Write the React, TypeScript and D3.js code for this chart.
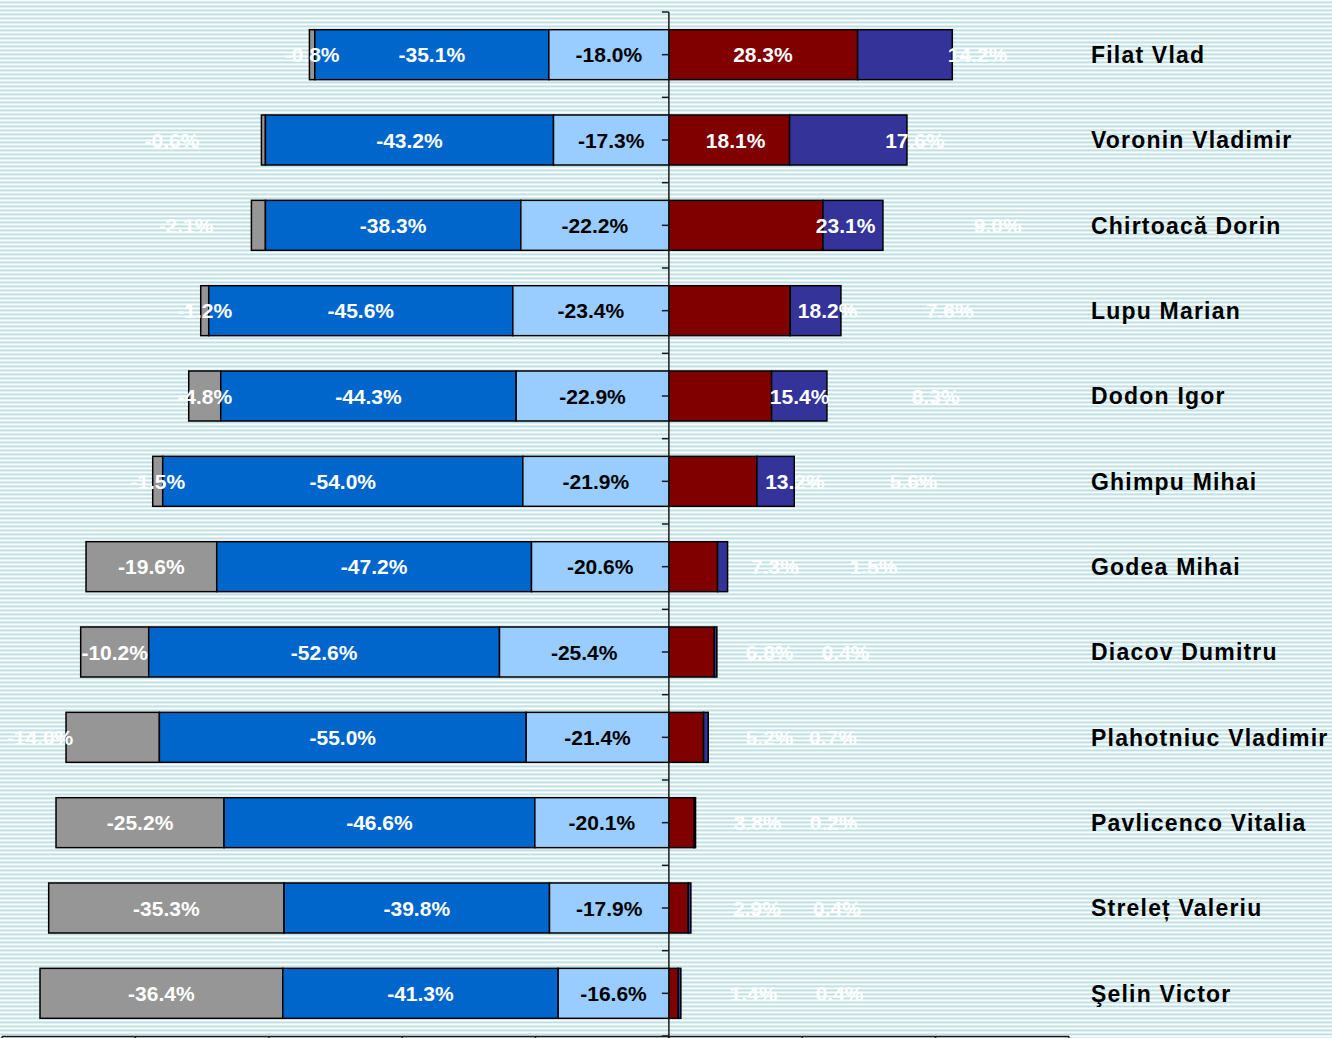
import React from 'react';
import * as d3 from 'd3';

const categories = [
  'Filat Vlad',
  'Voronin Vladimir',
  'Chirtoacă Dorin',
  'Lupu Marian',
  'Dodon Igor',
  'Ghimpu Mihai',
  'Godea Mihai',
  'Diacov Dumitru',
  'Plahotniuc Vladimir',
  'Pavlicenco Vitalia',
  'Streleț Valeriu',
  'Şelin Victor',
];
const grayValues = [-0.8, -0.6, -2.1, -1.2, -4.8, -1.5, -19.6, -10.2, -14.0, -25.2, -35.3, -36.4];
const blueValues = [-35.1, -43.2, -38.3, -45.6, -44.3, -54.0, -47.2, -52.6, -55.0, -46.6, -39.8, -41.3];
const lightBlueValues = [-18.0, -17.3, -22.2, -23.4, -22.9, -21.9, -20.6, -25.4, -21.4, -20.1, -17.9, -16.6];
const redValues = [28.3, 18.1, 23.1, 18.2, 15.4, 13.2, 7.3, 6.8, 5.2, 3.8, 2.9, 1.4];
const indigoValues = [14.2, 17.6, 9.0, 7.6, 8.3, 5.6, 1.5, 0.4, 0.7, 0.2, 0.4, 0.4];
const axisTicks = [-100, -80, -60, -40, -20, 0, 20, 40, 60];

// Label anchors (in value units) where the original labels sit away from their segment centre
const grayLabelAt: (number | null)[] = [null, -74.5, -72.4, null, null, null, null, null, -94.3, null, null, null];
const redLabelAt = [14.1, 10.0, 26.5, 23.8, 19.6, 18.9, 15.9, 15.1, 15.1, 13.3, 13.2, 12.7];
const indigoLabelAt = [46.3, 36.9, 49.3, 42.1, 40.0, 36.7, 30.7, 26.5, 24.6, 24.7, 25.2, 25.6];

const W = 1332;
const H = 1038;

const COLORS = {
  gray: '#969696',
  blue: '#0066CC',
  light: '#99CCFF',
  red: '#800000',
  indigo: '#333399',
};

const fmt = (v: number) => v.toFixed(1) + '%';

export default function App() {
  const x = d3.scaleLinear().domain([-100, 60]).range([2, 1069]);
  const y = d3.scaleBand<string>().domain(categories).range([12, 1036]).padding(0);
  const step = y.step();
  const barH = 50;

  type Seg = { key: string; x0: number; x1: number; color: string; label: string; at: number; textColor: string };
  const rows = categories.map((c, i) => {
    const lb = lightBlueValues[i];
    const b = blueValues[i];
    const g = grayValues[i];
    const r = redValues[i];
    const ind = indigoValues[i];
    const segs: Seg[] = [
      { key: 'gray', x0: lb + b + g, x1: lb + b, color: COLORS.gray, label: fmt(g), at: grayLabelAt[i] ?? (lb + b + g / 2), textColor: '#fff' },
      { key: 'blue', x0: lb + b, x1: lb, color: COLORS.blue, label: fmt(b), at: lb + b / 2, textColor: '#fff' },
      { key: 'light', x0: lb, x1: 0, color: COLORS.light, label: fmt(lb), at: lb / 2, textColor: '#000' },
      { key: 'red', x0: 0, x1: r, color: COLORS.red, label: fmt(r), at: redLabelAt[i], textColor: '#fff' },
      { key: 'indigo', x0: r, x1: r + ind, color: COLORS.indigo, label: fmt(ind), at: indigoLabelAt[i], textColor: '#fff' },
    ];
    return { c, segs, cy: (y(c) as number) + step / 2 };
  });

  const font = '"Liberation Sans", Arial, Helvetica, sans-serif';
  const x0 = x(0);

  return (
    <svg width={W} height={H} style={{ position: 'absolute', left: 0, top: 0, display: 'block' }}>
      <defs>
        <pattern id="stripes" width={8} height={4} patternUnits="userSpaceOnUse">
          <rect x={0} y={0} width={8} height={1} fill="#ffffff" />
          <rect x={0} y={1} width={8} height={1} fill="#d6ecef" />
          <rect x={0} y={2} width={8} height={1} fill="#bfe0e5" />
          <rect x={0} y={3} width={8} height={1} fill="#e2f2f4" />
        </pattern>
      </defs>
      <rect x={0} y={0} width={W} height={H} fill="url(#stripes)" />

      {/* bars */}
      {rows.map((row) => (
        <g key={row.c}>
          {row.segs.map((s) => (
            <rect
              key={s.key}
              x={x(Math.min(s.x0, s.x1))}
              y={row.cy - barH / 2}
              width={Math.abs(x(s.x1) - x(s.x0))}
              height={barH}
              fill={s.color}
              stroke="#000"
              strokeWidth={1.5}
            />
          ))}
        </g>
      ))}

      {/* axes */}
      <g stroke="#1a1a1a" strokeWidth={1.5}>
        <line x1={x0} x2={x0} y1={12} y2={H} />
        {d3.range(0, categories.length * 2 + 1).map((k) => {
          const yy = 12 + (k * step) / 2;
          return <line key={'t' + k} x1={x0 - 7} x2={x0} y1={yy} y2={yy} />;
        })}
        <line x1={x(-100)} x2={x(60)} y1={1036.5} y2={1036.5} />
        {axisTicks.map((t) => (
          <line key={'b' + t} x1={x(t)} x2={x(t)} y1={1036.5} y2={H} />
        ))}
      </g>

      {/* value labels */}
      {rows.map((row) => (
        <g key={'l' + row.c}>
          {row.segs.map((s) => (
            <text
              key={s.key}
              x={x(s.at)}
              y={row.cy}
              dy="0.36em"
              textAnchor="middle"
              fontFamily={font}
              fontWeight="bold"
              fontSize={21}
              fill={s.textColor}
            >
              {s.label}
            </text>
          ))}
        </g>
      ))}

      {/* category labels */}
      {rows.map((row) => (
        <text
          key={'c' + row.c}
          x={1091}
          y={row.cy}
          dy="0.36em"
          fontFamily={font}
          fontWeight="bold"
          fontSize={23}
          letterSpacing={1.2}
          fill="#000"
        >
          {row.c}
        </text>
      ))}
    </svg>
  );
}
